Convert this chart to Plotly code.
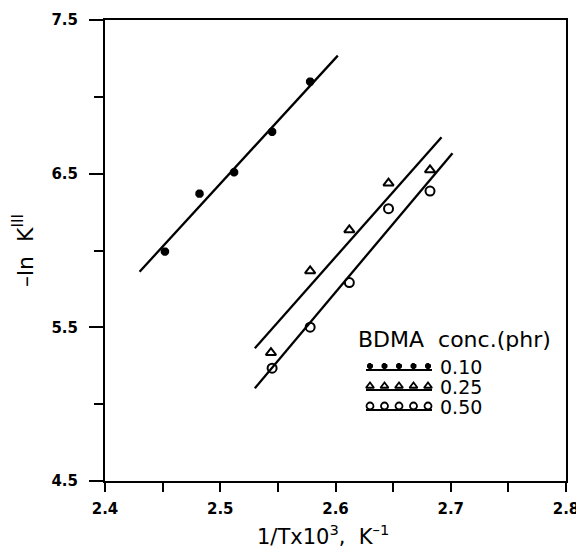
import numpy as np
import plotly.graph_objects as go

# ---- data ----
star_x = [2.452, 2.482, 2.512, 2.545, 2.578]
star_y = [5.993, 6.370, 6.509, 6.773, 7.099]
tri_x = [2.544, 2.578, 2.612, 2.646, 2.682]
tri_y = [5.335, 5.867, 6.134, 6.438, 6.524]
circ_x = [2.545, 2.578, 2.612, 2.646, 2.682]
circ_y = [5.234, 5.501, 5.791, 6.272, 6.387]

# fitted lines (end points)
star_line_x = [2.430, 2.602]
star_line_y = [5.862, 7.268]
tri_line_x = [2.530, 2.692]
tri_line_y = [5.364, 6.737]
circ_line_x = [2.530, 2.7015]
circ_line_y = [5.104, 6.633]

legend_labels = ["0.10", "0.25", "0.50"]
legend_title = "BDMA\u00a0\u00a0conc.(phr)"
x_title = "1/Tx10<sup>3</sup>,\u00a0\u00a0K<sup>–1</sup>"
y_title = "–ln\u00a0\u00a0K<sup>III</sup>"
x_tick_vals = [2.40, 2.45, 2.50, 2.55, 2.60, 2.65, 2.70, 2.75, 2.80]
x_tick_text = ["2.4", "", "2.5", "", "2.6", "", "2.7", "", "2.8"]
y_tick_vals = [4.5, 5.5, 6.5, 7.5]
y_minor_vals = [5.0, 6.0, 7.0]
X_RANGE = [2.4, 2.8]
Y_RANGE = [4.5, 7.5]

FONT = "DejaVu Sans, Arial, sans-serif"
BLACK = "#000000"

L, R, T, B = 105, 10, 20, 68
W, H = 576, 549
pw, ph = W - L - R, H - T - B

def px2x(px):
    return X_RANGE[0] + (px - L) / pw * (X_RANGE[1] - X_RANGE[0])

def py2y(py):
    return Y_RANGE[0] + (H - B - py) / ph * (Y_RANGE[1] - Y_RANGE[0])

fig = go.Figure()

for lx, ly in [(star_line_x, star_line_y), (tri_line_x, tri_line_y), (circ_line_x, circ_line_y)]:
    fig.add_trace(go.Scatter(x=lx, y=ly, mode="lines",
                             line=dict(color=BLACK, width=2.3), showlegend=False))

star_m = dict(symbol="asterisk-open", size=7, color=BLACK, line=dict(color=BLACK, width=3))
tri_m = dict(symbol="triangle-up-open", size=9, color=BLACK, line=dict(color=BLACK, width=2))
circ_m = dict(symbol="circle-open", size=9, color=BLACK, line=dict(color=BLACK, width=2))

fig.add_trace(go.Scatter(x=star_x, y=star_y, mode="markers", showlegend=False, marker=star_m))
fig.add_trace(go.Scatter(x=tri_x, y=tri_y, mode="markers", showlegend=False, marker=tri_m))
fig.add_trace(go.Scatter(x=circ_x, y=circ_y, mode="markers", showlegend=False, marker=circ_m))

# ---- hand-drawn legend (sample glyphs over a short line) ----
sym_specs = [
    dict(symbol="asterisk-open", size=5, color=BLACK, line=dict(color=BLACK, width=2.5)),
    dict(symbol="triangle-up-open", size=7, color=BLACK, line=dict(color=BLACK, width=1.8)),
    dict(symbol="circle-open", size=7, color=BLACK, line=dict(color=BLACK, width=1.8)),
]
row_py = [366, 386, 406]
mk_px = [370 + 14.5 * i for i in range(5)]
for spec, rpy, lab in zip(sym_specs, row_py, legend_labels):
    fig.add_trace(go.Scatter(x=[px2x(366), px2x(432)], y=[py2y(rpy + 4)] * 2, mode="lines",
                             line=dict(color=BLACK, width=1.8), showlegend=False))
    fig.add_trace(go.Scatter(x=[px2x(p) for p in mk_px], y=[py2y(rpy)] * 5, mode="markers",
                             marker=spec, showlegend=False))
    fig.add_annotation(x=px2x(438), y=py2y(rpy + 1), xref="x", yref="y",
                       text=lab, showarrow=False, xanchor="left", yanchor="middle",
                       font=dict(family=FONT, size=19, color=BLACK))

fig.add_annotation(x=px2x(356), y=py2y(339), xref="x", yref="y",
                   text=legend_title, showarrow=False, xanchor="left", yanchor="middle",
                   font=dict(family=FONT, size=22, color=BLACK))

# x-axis title (centred slightly left of the plot middle, as in the reference)
fig.add_annotation(x=(323 - L) / pw, y=-(535 - (H - B)) / ph, xref="paper", yref="paper",
                   text=x_title, showarrow=False, xanchor="center", yanchor="middle",
                   font=dict(family=FONT, size=21, color=BLACK))

fig.update_layout(
    width=W, height=H,
    margin=dict(l=L, r=R, t=T, b=B, autoexpand=False),
    plot_bgcolor="white", paper_bgcolor="white",
    font=dict(family=FONT, color=BLACK),
    xaxis=dict(range=X_RANGE, tickmode="array", tickvals=x_tick_vals, ticktext=x_tick_text,
               showgrid=False, zeroline=False, showline=True, linecolor=BLACK, linewidth=2,
               mirror=True, ticks="outside", ticklen=9, tickwidth=2, tickcolor=BLACK,
               automargin=False, ticklabelstandoff=4, ticklabeloverflow="allow",
               tickfont=dict(family=FONT, size=15, color=BLACK, weight="bold")),
    yaxis=dict(range=Y_RANGE, tickmode="array", tickvals=y_tick_vals, tickformat=".1f",
               showgrid=False, zeroline=False, showline=True, linecolor=BLACK, linewidth=2,
               mirror=True, ticks="outside", ticklen=14, tickwidth=2, tickcolor=BLACK,
               automargin=False, ticklabelstandoff=8,
               minor=dict(tickmode="array", tickvals=y_minor_vals, ticks="outside", ticklen=9,
                          tickwidth=2, tickcolor=BLACK, showgrid=False),
               tickfont=dict(family=FONT, size=15, color=BLACK, weight="bold"),
               title=dict(text=y_title, font=dict(family=FONT, size=22, color=BLACK), standoff=12)),
)

fig.write_html("out.html", config={"displayModeBar": False},
               post_script="document.body.style.margin='0px';")
